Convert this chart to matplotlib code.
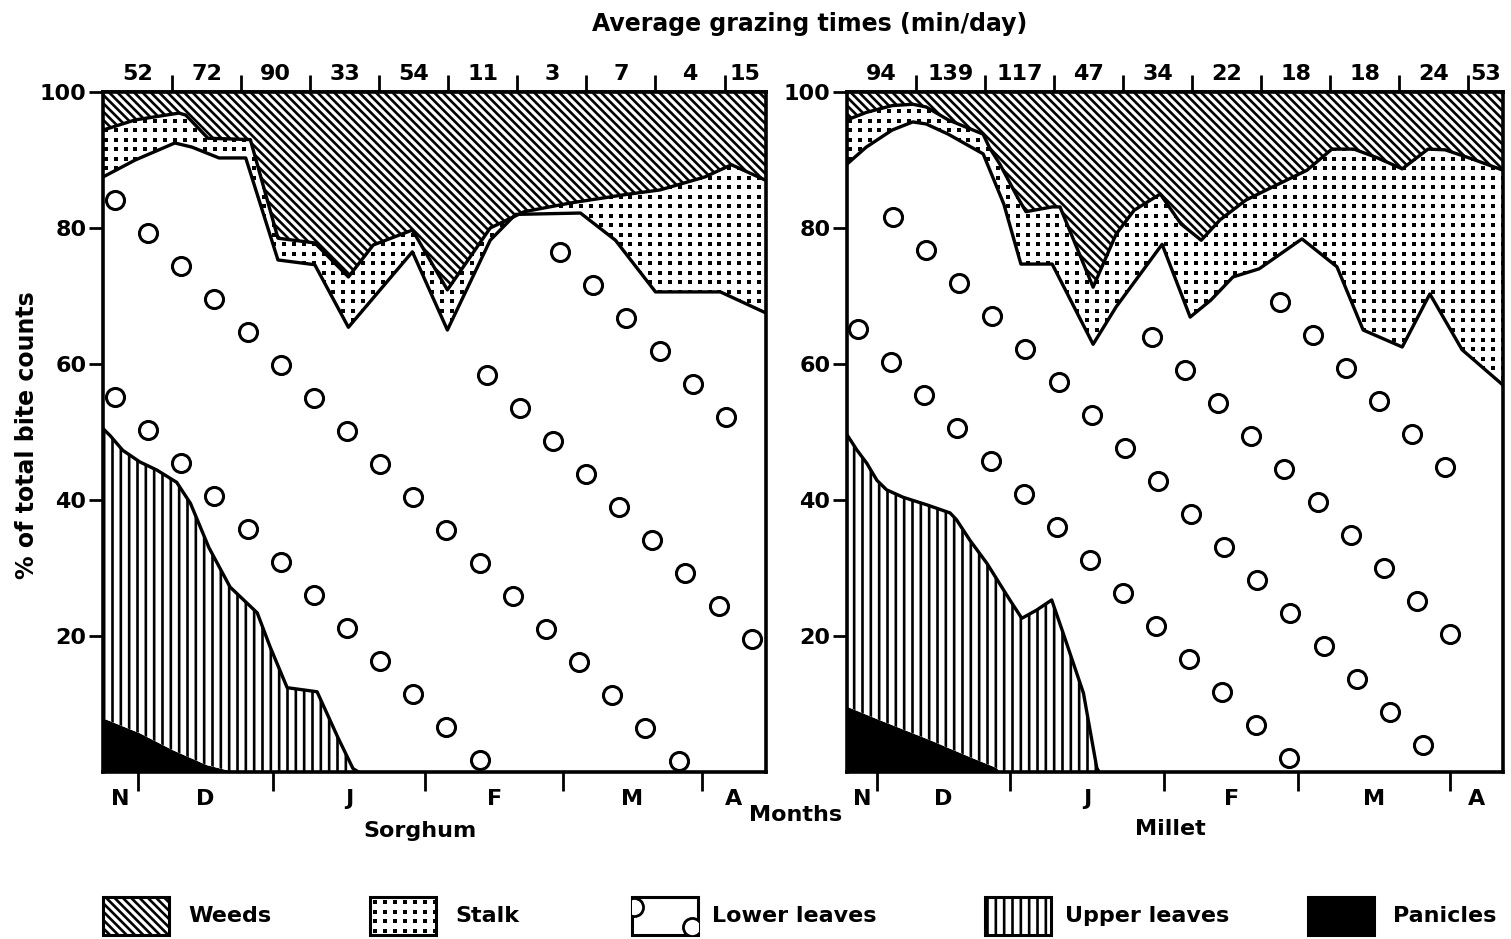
import numpy as np
import matplotlib
matplotlib.use("Agg")
import matplotlib.pyplot as plt
from matplotlib.patches import Rectangle
from matplotlib.ticker import NullFormatter

plt.rcParams['font.family'] = 'DejaVu Sans'
plt.rcParams['font.weight'] = 'bold'
plt.rcParams['hatch.linewidth'] = 1.9
plt.rcParams['hatch.color'] = 'black'

# days from start of the grazing season
sorghum_xmax = 144
millet_xmax = 142.6
period_edges = [15, 30, 45, 60, 75, 90, 105, 120, 135]
sorghum_month_edges = [7.5, 37, 70, 100, 130]
millet_month_edges = [6.5, 35.5, 69, 98, 131]
month_labels = ['N', 'D', 'J', 'F', 'M', 'A']

# average grazing time per half-month period (min/day)
sorghum_graze = [52, 72, 90, 33, 54, 11, 3, 7, 4, 15]
millet_graze = [94, 139, 117, 47, 34, 22, 18, 18, 24, 53]

# cumulative upper edge of each class (% of total bite counts)
sorghum_panicle_day = [0, 8, 15.2, 22.6, 28.5]
sorghum_panicle = [7.9, 5.7, 3.2, 1.0, 0]
sorghum_upper_day = [0, 1.5, 4.3, 8, 11.7, 16, 19, 23, 27.6, 33.5, 36.3, 40, 46.5, 51, 54.3, 55.5]
sorghum_upper = [50.5, 49.5, 47.3, 45.6, 44.4, 42.6, 39.5, 33, 27.2, 23.4, 18.4, 12.4, 11.8, 5.1, 0.5, 0]
sorghum_lower_day = [0, 7, 15.6, 19.3, 25.2, 31, 38, 46, 53.3, 67.2, 74.8, 84.1, 89.6,
                     103.7, 111.3, 120, 134.1, 144]
sorghum_lower = [87.5, 90, 92.5, 91.9, 90.3, 90.3, 75.3, 74.6, 65.4, 76.5, 65, 78.2, 82,
                 82.2, 78.2, 70.6, 70.6, 67.5]
sorghum_stalk_day = [0, 7, 16.5, 18, 22.8, 32, 38, 46, 53.3, 58.7, 67.2, 74.8, 84.1, 91.5,
                     101.7, 113.3, 121, 130.7, 136.5, 144]
sorghum_stalk = [94.4, 95.9, 96.9, 96.6, 93.2, 93, 78.5, 77.8, 72.8, 77.5, 79.7, 70.9, 80,
                 82.4, 83.7, 84.9, 85.6, 87.5, 89.3, 87]

millet_panicle_day = [0, 7.2, 18, 26.7, 32.5, 33.3]
millet_panicle = [9.6, 7.6, 4.7, 2.2, 0.6, 0]
millet_upper_day = [0, 2.1, 4.3, 6.5, 8.6, 12.2, 17.3, 22.4, 23.8, 26.7, 30.4, 35.4, 38,
                    41.2, 44.5, 47, 51.4, 54.3, 54.8]
millet_upper = [49.6, 47.4, 45.4, 42.9, 41.5, 40.4, 39.3, 38.1, 37.1, 34.1, 30.7, 25.3, 22.6,
                23.8, 25.3, 20.4, 11.6, 0.6, 0]
millet_lower_day = [0, 4.2, 9.8, 14.3, 17.2, 22, 29.6, 34.1, 37.8, 44.6, 53.5, 58.5, 68.5,
                    74.6, 79.1, 83.9, 89.6, 98.9, 106.5, 112.2, 120.7, 126.7, 133.7, 142.6]
millet_lower = [89.4, 91.9, 94.4, 95.6, 95.3, 93.8, 90.9, 83.5, 74.7, 74.7, 62.9, 68.4, 77.6,
                66.9, 69.4, 72.8, 74, 78.4, 74.3, 65, 62.5, 70.3, 62.1, 56.9]
millet_stalk_day = [0, 4.2, 9.8, 14.3, 17.2, 22, 26.7, 29.6, 30.9, 33.3, 37, 38.9, 44.6,
                    46.3, 53.5, 58.5, 62.4, 68.1, 72.6, 77, 81.1, 86.7, 92.4, 100, 105.4,
                    110.2, 115, 120.7, 126.3, 130, 135.7, 142.6]
millet_stalk = [95.9, 97, 98, 98.2, 97.8, 95.9, 94.6, 93.8, 91.9, 89.3, 84.6, 82.4, 83.1,
                83.1, 71.3, 79.1, 82.6, 85, 80.6, 78.2, 81.2, 84.1, 86, 88.5, 91.6, 91.6,
                90.4, 88.7, 91.6, 91.5, 90.2, 88.5]

# open-circle pattern for lower leaves: (first day, first value, count) per diagonal row
circle_step = (7.2, -4.85)
sorghum_circle_rows = [(2.6, 84.1, 18), (2.6, 55.1, 12), (83.3, 58.4, 9), (99.3, 76.5, 6)]
millet_circle_rows = [(2.4, 65.1, 14), (10, 81.6, 17), (66.3, 64, 10), (94.1, 69.1, 6)]

W, H = 1511, 939
FS = 16
fig = plt.figure(figsize=(W / 100, H / 100), dpi=100)


def px_axes(x0, y0, x1, y1):
    return fig.add_axes([x0 / W, 1 - y1 / H, (x1 - x0) / W, (y1 - y0) / H])


def to_end(x, y, xmax):
    return np.r_[x, xmax], np.r_[y, 0]


def band(ax, top, bottom, **kw):
    (xt, yt), (xb, yb) = top, bottom
    return ax.fill(np.r_[xt, np.asarray(xb)[::-1]], np.r_[yt, np.asarray(yb)[::-1]], **kw)[0]


def mids(edges):
    e = np.asarray(edges, dtype=float)
    return (e[:-1] + e[1:]) / 2


def draw_panel(ax, xmax, pan, upper, lower, stalk, rows, month_edges, graze):
    pan_e = to_end(*pan, xmax)
    upper_e = to_end(*upper, xmax)
    lower = (np.asarray(lower[0]), np.asarray(lower[1]))
    stalk = (np.asarray(stalk[0]), np.asarray(stalk[1]))

    band(ax, pan_e, ([0, xmax], [0, 0]), facecolor='black', lw=0)
    band(ax, upper_e, pan_e, facecolor='white', edgecolor='black', lw=0, hatch='||')
    band(ax, lower, upper_e, facecolor='white', lw=0)
    stalk_poly = band(ax, stalk, lower, facecolor='white', lw=0)
    band(ax, ([0, xmax], [100, 100]), stalk, facecolor='white', edgecolor='black',
         lw=0, hatch='\\\\\\\\')

    # stippled stalk
    gx, gy = np.meshgrid(np.arange(0.6, xmax, 2.15), np.arange(0.6, 100, 1.4))
    dots = ax.scatter(gx.ravel(), gy.ravel(), s=6, marker='s', color='black', lw=0)
    dots.set_clip_path(stalk_poly)

    # circles in lower leaves
    for d0, v0, n in rows:
        k = np.arange(n)
        ax.plot(d0 + circle_step[0] * k, v0 + circle_step[1] * k, 'o', ms=13,
                mfc='white', mec='black', mew=2.2, zorder=3)

    ax.plot(upper[0], upper[1], color='black', lw=2.4, zorder=4)
    ax.plot(lower[0], lower[1], color='black', lw=2.4, zorder=4)
    ax.plot(stalk[0], stalk[1], color='black', lw=2.4, zorder=4)

    ax.set_xlim(0, xmax)
    ax.set_ylim(0, 100)
    for s in ax.spines.values():
        s.set_linewidth(2.6)
        s.set_zorder(5)

    ax.set_yticks([20, 40, 60, 80, 100])
    ax.tick_params(axis='y', length=10, width=2, labelsize=FS, pad=2)

    ax.set_xticks(month_edges)
    ax.xaxis.set_major_formatter(NullFormatter())
    ax.set_xticks(mids([0] + list(month_edges) + [xmax]), minor=True)
    ax.set_xticklabels(month_labels, minor=True)
    ax.tick_params(axis='x', which='major', length=14, width=2)
    ax.tick_params(axis='x', which='minor', length=0, pad=12, labelsize=FS)

    top = ax.secondary_xaxis('top')
    top.set_xticks(period_edges)
    top.xaxis.set_major_formatter(NullFormatter())
    top.set_xticks(mids([0] + period_edges + [xmax]), minor=True)
    top.set_xticklabels([str(v) for v in graze], minor=True)
    top.tick_params(which='major', length=12, width=2)
    top.tick_params(which='minor', length=0, pad=6, labelsize=FS)
    top.spines['top'].set_linewidth(2.6)


ax_s = px_axes(103, 92, 766, 772)
ax_m = px_axes(847, 92, 1503, 772)

draw_panel(ax_s, sorghum_xmax, (sorghum_panicle_day, sorghum_panicle),
           (sorghum_upper_day, sorghum_upper), (sorghum_lower_day, sorghum_lower),
           (sorghum_stalk_day, sorghum_stalk), sorghum_circle_rows,
           sorghum_month_edges, sorghum_graze)
draw_panel(ax_m, millet_xmax, (millet_panicle_day, millet_panicle),
           (millet_upper_day, millet_upper), (millet_lower_day, millet_lower),
           (millet_stalk_day, millet_stalk), millet_circle_rows,
           millet_month_edges, millet_graze)

fig.text(810 / W, 1 - 24 / H, 'Average grazing times (min/day)', ha='center', va='center',
         fontsize=17)
fig.text(27 / W, 1 - 435 / H, '% of total bite counts', ha='center', va='center',
         rotation=90, fontsize=17)
fig.text(420 / W, 1 - 831 / H, 'Sorghum', ha='center', va='center', fontsize=FS)
fig.text(1170 / W, 1 - 829 / H, 'Millet', ha='center', va='center', fontsize=FS)
fig.text(796 / W, 1 - 815 / H, 'Months', ha='center', va='center', fontsize=FS)

# legend drawn in pixel coordinates
lax = fig.add_axes([0, 0, 1, 1])
lax.set_xlim(0, W)
lax.set_ylim(H, 0)
lax.axis('off')

legend_names = ['Weeds', 'Stalk', 'Lower leaves', 'Upper leaves', 'Panicles']
box_x = [103, 370, 632, 985, 1308]
label_x = [188, 455, 712, 1065, 1393]
by, bw, bh = 897, 66, 38
for name, x0, tx in zip(legend_names, box_x, label_x):
    if name == 'Weeds':
        r = Rectangle((x0, by), bw, bh, facecolor='white', edgecolor='black', lw=2.2,
                      hatch='\\\\\\\\')
        lax.add_patch(r)
    elif name == 'Stalk':
        r = Rectangle((x0, by), bw, bh, facecolor='white', edgecolor='black', lw=2.2)
        lax.add_patch(r)
        gx, gy = np.meshgrid(np.arange(x0 + 5, x0 + bw, 10), np.arange(by + 5, by + bh, 9.5))
        d = lax.scatter(gx.ravel(), gy.ravel(), s=6, marker='s', color='black', lw=0)
        d.set_clip_path(r)
    elif name == 'Lower leaves':
        r = Rectangle((x0, by), bw, bh, facecolor='white', edgecolor='black', lw=2.2)
        lax.add_patch(r)
        c = lax.scatter([x0 + 2, x0 + bw - 6], [by + 10, by + bh - 8], s=170,
                        facecolor='white', edgecolor='black', lw=2)
        c.set_clip_path(r)
    elif name == 'Upper leaves':
        r = Rectangle((x0, by), bw, bh, facecolor='white', edgecolor='black', lw=2.2,
                      hatch='||')
        lax.add_patch(r)
    else:
        r = Rectangle((x0, by), bw, bh, facecolor='black', edgecolor='black', lw=2.2)
        lax.add_patch(r)
    lax.text(tx, by + bh / 2, name, ha='left', va='center', fontsize=FS)

fig.savefig('out.png', dpi=100)
